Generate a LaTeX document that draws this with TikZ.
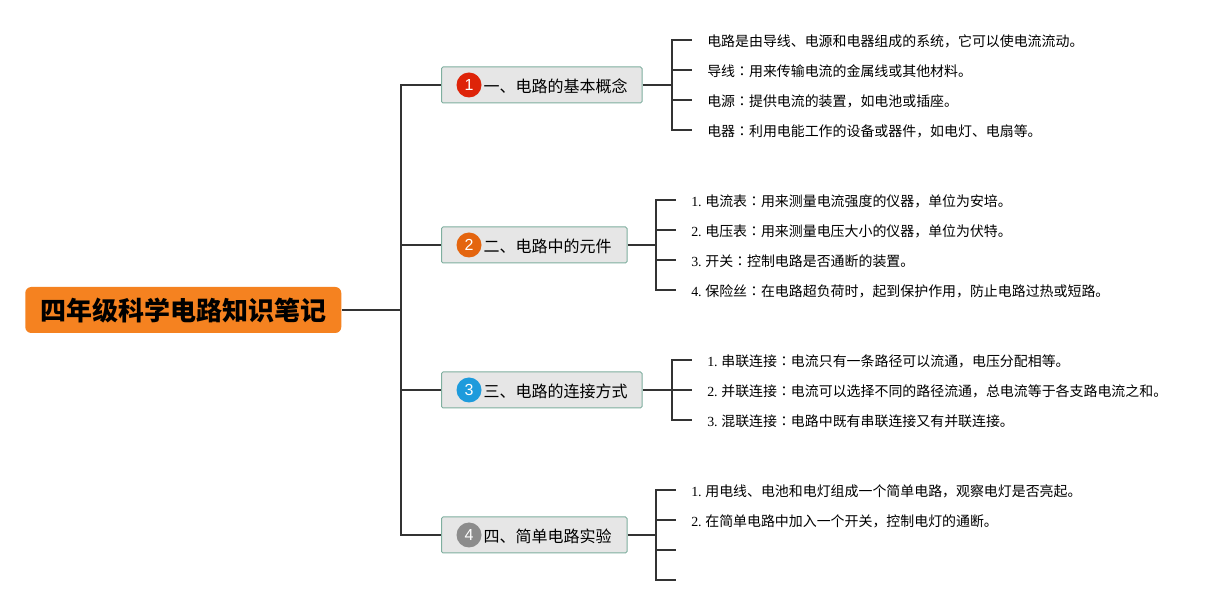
\documentclass[tikz,border=0pt]{standalone}
\usepackage{fontspec}
\setmainfont{Liberation Serif}
\newfontfamily\cjk{Noto Sans CJK SC}
\newfontfamily\cjkc{Noto Sans CJK JP}
\newfontfamily\lat{Liberation Sans}
\newdimen\pxu \pxu=0.75pt
\newcommand{\cn}[1]{{\cjk #1}}
\newcommand{\cln}{{\cjkc ：}}
\newcommand{\nsp}{\hspace{3.6\pxu}}
\definecolor{conn}{HTML}{333333}
\definecolor{rootfill}{HTML}{F58220}
\definecolor{branchfill}{HTML}{E6E6E6}
\definecolor{branchline}{HTML}{7FAF9F}
\definecolor{badgea}{HTML}{DE2409}
\definecolor{badgeb}{HTML}{E4650F}
\definecolor{badgec}{HTML}{1E9BDC}
\definecolor{badged}{HTML}{8C8C8C}
\tikzset{
  rootbox/.style={fill=rootfill,rounded corners=6\pxu,anchor=west,inner xsep=0pt,inner ysep=0pt,minimum width=316\pxu,minimum height=46\pxu,text height=17.5pt,text depth=1pt,font=\fontsize{19.5pt}{22pt}\cjk\bfseries},
  branchbox/.style={draw=branchline,line width=1\pxu,fill=branchfill,rounded corners=1.5\pxu,anchor=west,inner xsep=0pt,inner ysep=0pt,minimum height=36\pxu,text height=11.5pt,text depth=0.8pt,font=\fontsize{12pt}{14pt}\cjk},
  leafbox/.style={anchor=west,inner ysep=2pt,inner xsep=0pt,text height=11pt,text depth=0.8pt,font=\fontsize{10.45pt}{12pt}\selectfont},
  badge/.style={circle,inner sep=0pt,minimum size=25\pxu,text=white,font=\fontsize{12pt}{14pt}\lat},
  link/.style={draw=conn,line width=2.2\pxu},
}
\begin{document}
\begin{tikzpicture}[x=\pxu,y=-\pxu]
\useasboundingbox (0,0) rectangle (1229,605);
\fill[white] (0,0) rectangle (1229,605);
\node[rootbox] (root) at (25,310) {四年级科学电路知识笔记};
\node[branchbox] (b1) at (441,85) {\hspace*{42\pxu}一、电路的基本概念\hspace*{14.5\pxu}};
\node[branchbox] (b2) at (441,245) {\hspace*{42\pxu}二、电路中的元件\hspace*{15.5\pxu}};
\node[branchbox] (b3) at (441,390) {\hspace*{42\pxu}三、电路的连接方式\hspace*{14.5\pxu}};
\node[branchbox] (b4) at (441,535) {\hspace*{42\pxu}四、简单电路实验\hspace*{15.5\pxu}};
\node[badge,fill=badgea] (n1) at (469,85) {1};
\node[badge,fill=badgeb] (n2) at (469,245) {2};
\node[badge,fill=badgec] (n3) at (469,390) {3};
\node[badge,fill=badged] (n4) at (469,535) {4};
% leaves
\node[leafbox] (l11) at (692,40) {\hspace*{15\pxu}\cn{电路是由导线、电源和电器组成的系统，它可以使电流流动。}};
\node[leafbox] (l12) at (692,70) {\hspace*{15\pxu}\cn{导线}\cln\cn{用来传输电流的金属线或其他材料。}};
\node[leafbox] (l13) at (692,100) {\hspace*{15\pxu}\cn{电源}\cln\cn{提供电流的装置，如电池或插座。}};
\node[leafbox] (l14) at (692,130) {\hspace*{15\pxu}\cn{电器}\cln\cn{利用电能工作的设备或器件，如电灯、电扇等。}};
\node[leafbox] (l21) at (676,200) {\hspace*{15\pxu}1.\nsp\cn{电流表}\cln\cn{用来测量电流强度的仪器，单位为安培。}};
\node[leafbox] (l22) at (676,230) {\hspace*{15\pxu}2.\nsp\cn{电压表}\cln\cn{用来测量电压大小的仪器，单位为伏特。}};
\node[leafbox] (l23) at (676,260) {\hspace*{15\pxu}3.\nsp\cn{开关}\cln\cn{控制电路是否通断的装置。}};
\node[leafbox] (l24) at (676,290) {\hspace*{15\pxu}4.\nsp\cn{保险丝}\cln\cn{在电路超负荷时，起到保护作用，防止电路过热或短路。}};
\node[leafbox] (l31) at (692,360) {\hspace*{15\pxu}1.\nsp\cn{串联连接}\cln\cn{电流只有一条路径可以流通，电压分配相等。}};
\node[leafbox] (l32) at (692,390) {\hspace*{15\pxu}2.\nsp\cn{并联连接}\cln\cn{电流可以选择不同的路径流通，总电流等于各支路电流之和。}};
\node[leafbox] (l33) at (692,420) {\hspace*{15\pxu}3.\nsp\cn{混联连接}\cln\cn{电路中既有串联连接又有并联连接。}};
\node[leafbox] (l41) at (676,490) {\hspace*{15\pxu}1.\nsp\cn{用电线、电池和电灯组成一个简单电路，观察电灯是否亮起。}};
\node[leafbox] (l42) at (676,520) {\hspace*{15\pxu}2.\nsp\cn{在简单电路中加入一个开关，控制电灯的通断。}};
\coordinate (l43) at (676,550);
\coordinate (l44) at (676,580);
% junctions
\coordinate (j0) at (401,310);
\coordinate (j1) at (672,85);
\coordinate (j2) at (656,245);
\coordinate (j3) at (672,390);
\coordinate (j4) at (656,535);
\draw[link] (root.east) -- (j0);
\foreach \b in {b1,b2,b3,b4}{\draw[link] (j0) |- (\b.west);}
\draw[link] (b1.east) -- (j1);
\draw[link] (b2.east) -- (j2);
\draw[link] (b3.east) -- (j3);
\draw[link] (b4.east) -- (j4);
\foreach \l in {l11,l12,l13,l14}{\draw[link] (j1) |- (\l.west);}
\foreach \l in {l21,l22,l23,l24}{\draw[link] (j2) |- (\l.west);}
\foreach \l in {l31,l32,l33}{\draw[link] (j3) |- (\l.west);}
\foreach \l in {l41,l42}{\draw[link] (j4) |- (\l.west);}
\foreach \l in {l43,l44}{\draw[link] (j4) |- (\l);}
\end{tikzpicture}
\end{document}
